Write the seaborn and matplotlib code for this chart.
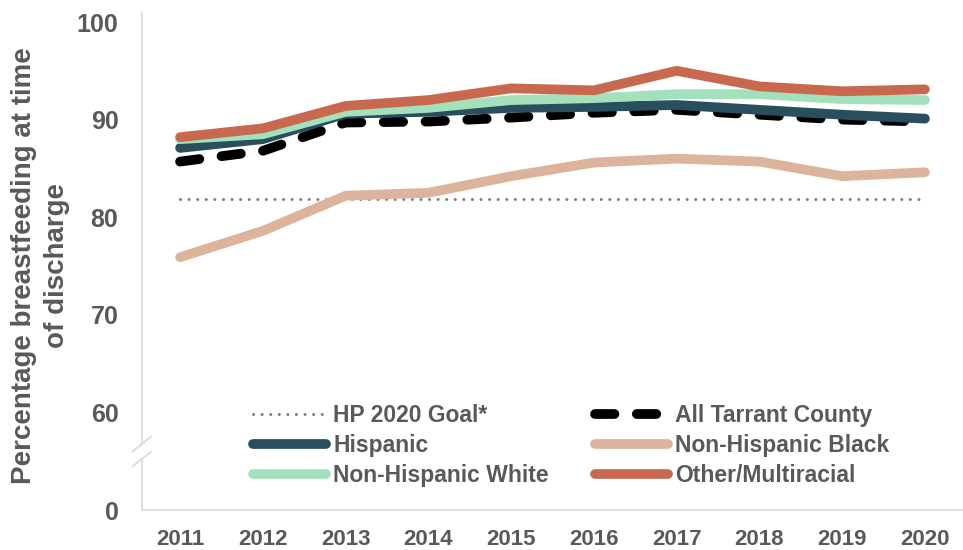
import numpy as np
import pandas as pd
import seaborn as sns
from matplotlib import pyplot as plt
from matplotlib import transforms as mtransforms

years = ['2011', '2012', '2013', '2014', '2015', '2016', '2017', '2018', '2019', '2020']
hp_goal = [81.9] * 10
all_tarrant = [85.7, 86.8, 89.7, 89.8, 90.2, 90.7, 91.0, 90.5, 90.0, 89.8]
hispanic = [87.1, 88.0, 90.6, 90.8, 91.2, 91.3, 91.5, 91.0, 90.5, 90.1]
nh_black = [75.9, 78.6, 82.2, 82.5, 84.2, 85.6, 86.0, 85.7, 84.2, 84.6]
nh_white = [88.0, 88.5, 90.8, 91.2, 92.0, 92.2, 92.6, 92.6, 92.1, 92.0]
other_multi = [88.2, 89.1, 91.4, 92.0, 93.2, 93.0, 95.0, 93.4, 92.9, 93.1]

ytick_vals = [50, 60, 70, 80, 90, 100]
ytick_labels = ['0', '60', '70', '80', '90', '100']

series = [
    ('HP 2020 Goal*', hp_goal, '#7F7F7F', 2.2, (0, (0.01, 2.8))),
    ('All Tarrant County', all_tarrant, '#000000', 7, (0, (2.0, 2.3))),
    ('Hispanic', hispanic, '#294F5F', 7, '-'),
    ('Non-Hispanic Black', nh_black, '#DCB39B', 7, '-'),
    ('Non-Hispanic White', nh_white, '#A3E1BD', 7, '-'),
    ('Other/Multiracial', other_multi, '#C8694F', 7, '-'),
]
# legend reads across rows in the reference
legend_order = ['HP 2020 Goal*', 'Hispanic', 'Non-Hispanic White',
                'All Tarrant County', 'Non-Hispanic Black', 'Other/Multiracial']

text_color = '#595959'
axis_color = '#D9D9D9'

sns.set_style("white")
plt.rcParams['font.family'] = ['Liberation Sans', 'DejaVu Sans']
plt.rcParams['font.weight'] = 'bold'

fig = plt.figure(figsize=(9.63, 5.5), dpi=100)
ax = fig.add_axes([142/963, 40/550, 1 - 142/963, 498/550])

for name, vals, color, lw, ls in series:
    df = pd.DataFrame({'year': years, 'value': vals})
    sns.lineplot(data=df, x='year', y='value', ax=ax, color=color, lw=lw,
                 ls=ls, label=name, solid_capstyle='round',
                 dash_capstyle='round', solid_joinstyle='round')

ax.set_xlim(-0.46, 9.46)
ax.set_ylim(50, 50 + 498/9.76)
ax.set_yticks(ytick_vals)
ax.set_yticklabels(ytick_labels)
ax.set_xlabel('')
ax.set_ylabel('')
ax.tick_params(axis='y', length=0, pad=17, labelsize=18, labelcolor=text_color)
ax.tick_params(axis='x', length=0, pad=14, labelsize=16, labelcolor=text_color)

for s in ['top', 'right', 'left']:
    ax.spines[s].set_visible(False)
ax.spines['bottom'].set_color(axis_color)
ax.spines['bottom'].set_linewidth(1.2)

# broken left axis
trans = mtransforms.blended_transform_factory(ax.transAxes, ax.transData)
top = 50 + 498/9.76
ax.plot([0, 0], [50, 55.2], color=axis_color, lw=1.2, transform=trans, clip_on=False)
ax.plot([0, 0], [56.8, top], color=axis_color, lw=1.2, transform=trans, clip_on=False)
ax.plot([-0.012, 0.011], [55.97, 57.51], color=axis_color, lw=1.2, transform=trans, clip_on=False)
ax.plot([-0.012, 0.011], [54.44, 55.97], color=axis_color, lw=1.2, transform=trans, clip_on=False)

handles, labels = ax.get_legend_handles_labels()
lookup = dict(zip(labels, handles))
leg = ax.legend([lookup[n] for n in legend_order], legend_order,
                loc='upper left', bbox_to_anchor=(0.135, 0.213), ncol=2,
                frameon=False, fontsize=16.5, handlelength=3.2, handletextpad=0.3,
                columnspacing=2.0, labelspacing=0.31, borderpad=0, borderaxespad=0)
for t in leg.get_texts():
    t.set_color(text_color)
    t.set_fontweight('bold')

fig.text(41/963, 1 - 266/550, 'Percentage breastfeeding at time\nof discharge',
         rotation=90, ha='center', va='center', multialignment='center',
         fontsize=20, fontweight='bold', color=text_color, linespacing=1.35)

plt.savefig('out.png', dpi=100)
